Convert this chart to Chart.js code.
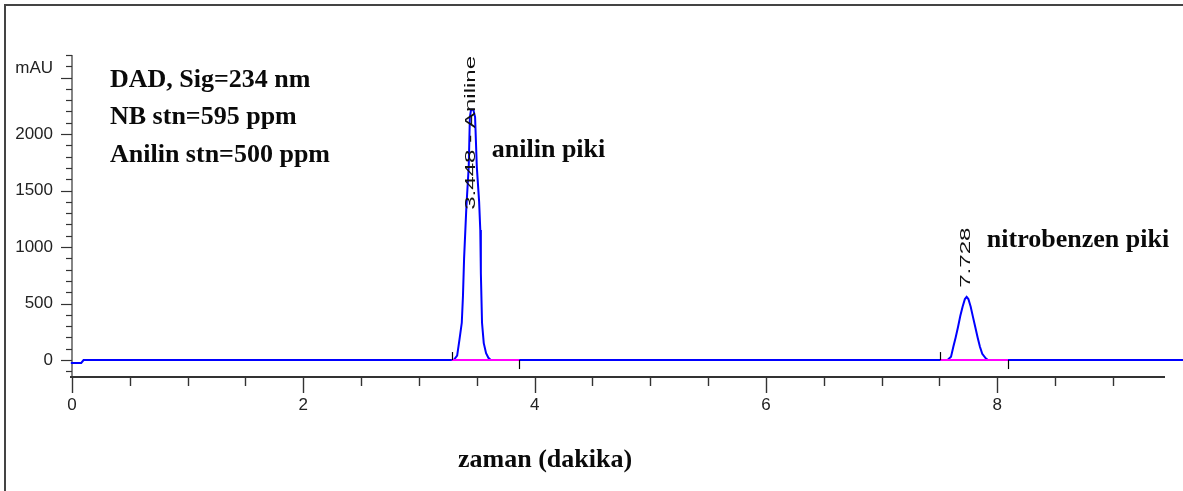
<!DOCTYPE html>
<html><head><meta charset="utf-8">
<script src="https://cdn.jsdelivr.net/npm/chart.js@4/dist/chart.umd.min.js"></script>
<style>html,body{margin:0;padding:0;background:#fff;overflow:hidden}#wrap{width:1183px;height:491px;position:relative}</style>
</head><body><div id="wrap"><canvas id="c"></canvas></div>
<script>
// ---- data ----
const times  = [-0.01, 0.08, 0.10,
  3.30, 3.33, 3.35, 3.37, 3.38, 3.39, 3.41, 3.43, 3.44, 3.45, 3.47, 3.485, 3.50, 3.52, 3.53, 3.535, 3.545, 3.56, 3.58, 3.60, 3.62,
  7.57, 7.60, 7.62, 7.64, 7.66, 7.68, 7.70, 7.72, 7.735, 7.75, 7.77, 7.79, 7.81, 7.83, 7.85, 7.87, 7.90, 7.92,
  9.62];
const signal = [-25, -25, 0,
  0, 40, 180, 330, 560, 900, 1360, 1710, 2150, 2215, 2215, 2150, 1710, 1400, 1150, 770, 330, 150, 60, 20, 0,
  0, 30, 118, 200, 290, 390, 472, 540, 560, 540, 472, 380, 290, 200, 118, 55, 15, 0,
  0];
const peakTimes      = [3.448, 7.728];
const peakLabels     = ['3.448 - Aniline', '7.728'];
const baselineStarts = [3.283, 7.508];
const baselineEnds   = [3.868, 8.093];
const xMajorLabels   = [0, 2, 4, 6, 8];
const yMajorLabels   = [0, 500, 1000, 1500, 2000];
const yUnit   = 'mAU';
const xTitle  = 'zaman (dakika)';
const infoLines = ['DAD, Sig=234 nm', 'NB stn=595 ppm', 'Anilin stn=500 ppm'];
const peakNotes = ['anilin piki', 'nitrobenzen piki'];

// ---- styles ----
const TICK_FAMILY = "'Liberation Sans', Arial, sans-serif";
const TICK_FONT = "17px " + TICK_FAMILY;
const BOLD_FONT = "bold 26px 'Liberation Serif', 'Times New Roman', serif";
const AXIS = '#333';

const tracePts = times.map((t, i) => ({x: t, y: signal[i]}));
const baseSets = baselineStarts.map((s, i) => ({
  data: [{x: s, y: 0}, {x: baselineEnds[i], y: 0}],
  borderColor: '#ff00ff', borderWidth: 2, pointRadius: 0, tension: 0
}));

function apexOf(t) {
  let best = 0, bd = 1e9;
  times.forEach((tt, i) => { const d = Math.abs(tt - t); if (d < bd) { bd = d; best = signal[i]; } });
  return best;
}

const deco = {
  id: 'deco',
  beforeDraw(chart) {
    const ctx = chart.ctx;
    ctx.save();
    ctx.fillStyle = '#fff';
    ctx.fillRect(0, 0, chart.width, chart.height);
    ctx.strokeStyle = '#444';
    ctx.lineWidth = 2;
    ctx.beginPath();
    ctx.moveTo(5, chart.height); ctx.lineTo(5, 5); ctx.lineTo(chart.width, 5);
    ctx.stroke();
    ctx.restore();
  },
  beforeDatasetsDraw(chart) {
    const ctx = chart.ctx, xs = chart.scales.x, ys = chart.scales.y, a = chart.chartArea;
    ctx.save();
    ctx.strokeStyle = AXIS;
    ctx.lineWidth = 1.2;
    ctx.beginPath(); ctx.moveTo(a.left, a.top); ctx.lineTo(a.left, a.bottom); ctx.stroke();
    for (let v = -100; v <= ys.max + 0.1; v += 100) {
      const y = Math.round(ys.getPixelForValue(v)) + 0.5;
      const len = (v % 500 === 0) ? 11 : 6;
      ctx.beginPath(); ctx.moveTo(a.left - len, y); ctx.lineTo(a.left, y); ctx.stroke();
    }
    ctx.lineWidth = 2;
    ctx.beginPath(); ctx.moveTo(a.left - 2, a.bottom); ctx.lineTo(a.right, a.bottom); ctx.stroke();
    ctx.lineWidth = 1.4;
    for (let t = 0; t <= xs.max + 1e-6; t += 0.5) {
      const x = Math.round(xs.getPixelForValue(t)) + 0.5;
      const len = (Math.abs(t % 2) < 1e-6) ? 16 : 9;
      ctx.beginPath(); ctx.moveTo(x, a.bottom); ctx.lineTo(x, a.bottom + len); ctx.stroke();
    }
    ctx.restore();
  },
  afterDatasetsDraw(chart) {
    const ctx = chart.ctx, xs = chart.scales.x, ys = chart.scales.y, a = chart.chartArea;
    ctx.save();
    ctx.strokeStyle = '#000'; ctx.lineWidth = 1.2;
    const y0 = ys.getPixelForValue(0);
    baselineStarts.forEach(s => { const x = Math.round(xs.getPixelForValue(s)) + 0.5;
      ctx.beginPath(); ctx.moveTo(x, y0); ctx.lineTo(x, y0 - 8); ctx.stroke(); });
    baselineEnds.forEach(e => { const x = Math.round(xs.getPixelForValue(e)) + 0.5;
      ctx.beginPath(); ctx.moveTo(x, y0); ctx.lineTo(x, y0 + 9); ctx.stroke(); });
    ctx.fillStyle = '#222'; ctx.font = TICK_FONT; ctx.textAlign = 'right'; ctx.textBaseline = 'middle';
    ctx.fillText(yUnit, a.left - 19, 68);
    const offs = [100, -9];
    ctx.font = "14px " + TICK_FAMILY;
    ctx.fillStyle = '#111'; ctx.textAlign = 'left'; ctx.textBaseline = 'middle';
    peakTimes.forEach((t, i) => {
      const x = xs.getPixelForValue(t);
      const y = ys.getPixelForValue(apexOf(t)) + offs[i];
      ctx.save(); ctx.translate(x, y); ctx.rotate(-Math.PI / 2); ctx.scale(1.72, 1);
      ctx.fillText(peakLabels[i], 0, 0); ctx.restore();
    });
    ctx.font = BOLD_FONT; ctx.fillStyle = '#0a0a0a'; ctx.textBaseline = 'alphabetic'; ctx.textAlign = 'left';
    const infoBase = [87, 124, 162];
    infoLines.forEach((s, i) => ctx.fillText(s, 110, infoBase[i]));
    const noteBase = [157, 247];
    peakNotes.forEach((s, i) => ctx.fillText(s, xs.getPixelForValue(peakTimes[i]) + 21, noteBase[i]));
    ctx.fillText(xTitle, 458, 467);
    ctx.restore();
  }
};

new Chart(document.getElementById('c'), {
  type: 'line',
  data: {
    datasets: [
      ...baseSets,
      { data: tracePts, borderColor: '#0000ff', borderWidth: 2, pointRadius: 0, tension: 0,
        clip: {left: 3, top: 60, right: 20, bottom: 10} }
    ]
  },
  options: {
    animation: false, responsive: true, maintainAspectRatio: false,
    layout: { padding: { left: 0, top: 55, right: 18, bottom: 0 } },
    plugins: { legend: { display: false }, tooltip: { enabled: false } },
    scales: {
      x: {
        type: 'linear', min: 0, max: 9.45,
        grid: { display: false, drawTicks: false }, border: { display: false },
        ticks: { stepSize: 2, autoSkip: false, maxRotation: 0, padding: 18, color: '#222',
          font: { family: TICK_FAMILY, size: 17 },
          callback: v => xMajorLabels.includes(v) ? String(v) : '' },
        afterFit: s => { s.height = 114; }
      },
      y: {
        type: 'linear', min: -150, max: 2700,
        grid: { display: false, drawTicks: false }, border: { display: false },
        ticks: { stepSize: 100, autoSkip: false, padding: 19, color: '#222',
          font: { family: TICK_FAMILY, size: 17 },
          callback: v => yMajorLabels.includes(v) ? String(v) : '' },
        afterFit: s => { s.width = 72; }
      }
    }
  },
  plugins: [deco]
});
</script></body></html>
